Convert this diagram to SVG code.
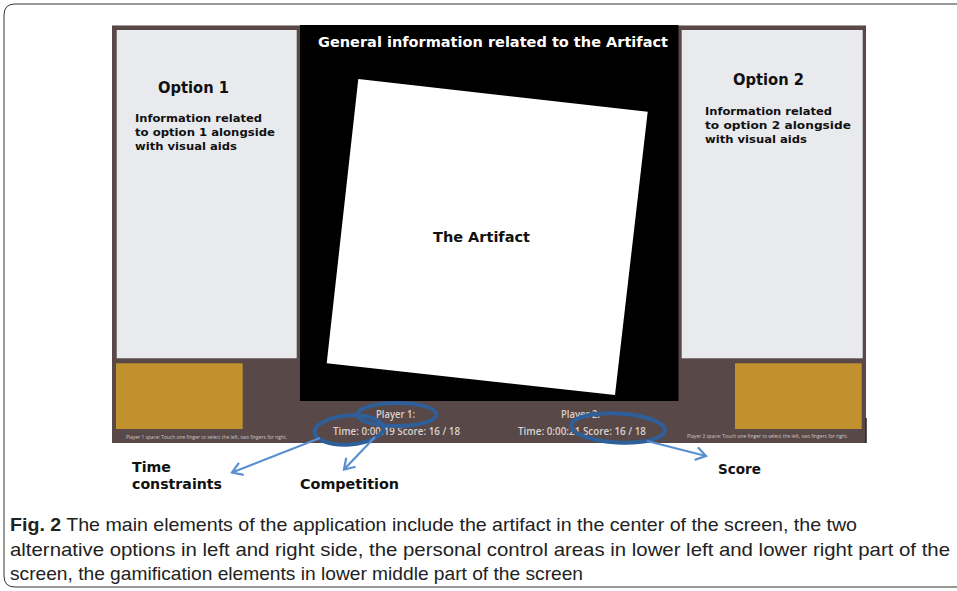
<svg xmlns="http://www.w3.org/2000/svg" width="957" height="591" viewBox="0 0 957 591">
<style>
.ui{font-family:"DejaVu Sans","Liberation Sans",sans-serif;font-weight:bold}
.bar{font-family:"Open Sans","Liberation Sans",sans-serif;font-weight:600;fill:#d9d2cf}
.tiny{font-family:"Open Sans","Liberation Sans",sans-serif;fill:#cfc8c5;font-size:5.5px}
.cap{font-family:"Liberation Sans Narrow","Liberation Sans",sans-serif;font-size:18.5px;fill:#222}
.ring{fill:none;stroke:#2f5f98;stroke-width:4}
.arrow{fill:none;stroke:#5a8fd2;stroke-width:2.2;marker-end:url(#chev)}
</style>
<defs>
<marker id="chev" markerUnits="userSpaceOnUse" markerWidth="16" markerHeight="16" refX="11" refY="7" orient="auto">
<path d="M1,0.5 L11,7 L1,13.5" fill="none" stroke="#5a8fd2" stroke-width="2.2"/>
</marker>
</defs>
<rect width="957" height="591" fill="#fff"/>
<path d="M957,4 H15 Q4,4 4,15 V576 Q4,587 15,587 H957" fill="none" stroke="#333" stroke-width="1"/>

<g id="screen">
<rect x="112" y="25" width="754" height="418" fill="#584848"/>
<line x1="112" y1="25.5" x2="866" y2="25.5" stroke="#a59c9c" stroke-width="1"/>
<line x1="866" y1="418" x2="866" y2="443" stroke="#2a2222" stroke-width="1.5"/>
</g>

<g id="artifact-area">
<rect x="300" y="25" width="378.5" height="376" fill="#000"/>
<text class="ui" x="318" y="47" font-size="14" fill="#fff" textLength="350" lengthAdjust="spacingAndGlyphs">General information related to the Artifact</text>
<polygon points="358.3,79 647.7,111.7 615,395 326.7,363.3" fill="#fff"/>
<text class="ui" x="433" y="242" font-size="14.5" fill="#111" textLength="97" lengthAdjust="spacingAndGlyphs">The Artifact</text>
</g>

<g id="option1">
<rect x="116.7" y="30" width="180" height="328.3" fill="#e9eaee"/>
<text class="ui" x="158" y="93" font-size="15.5" fill="#111" textLength="71" lengthAdjust="spacingAndGlyphs">Option 1</text>
<text class="ui" x="135" y="122" font-size="11" fill="#111" textLength="127" lengthAdjust="spacingAndGlyphs">Information related</text>
<text class="ui" x="135" y="136" font-size="11" fill="#111" textLength="140" lengthAdjust="spacingAndGlyphs">to option 1 alongside</text>
<text class="ui" x="135" y="150" font-size="11" fill="#111" textLength="102" lengthAdjust="spacingAndGlyphs">with visual aids</text>
</g>

<g id="option2">
<rect x="681.7" y="30" width="181" height="328.3" fill="#e9eaee"/>
<text class="ui" x="733" y="85" font-size="15.5" fill="#111" textLength="71" lengthAdjust="spacingAndGlyphs">Option 2</text>
<text class="ui" x="705" y="115" font-size="11" fill="#111" textLength="127" lengthAdjust="spacingAndGlyphs">Information related</text>
<text class="ui" x="705" y="129" font-size="11" fill="#111" textLength="146" lengthAdjust="spacingAndGlyphs">to option 2 alongside</text>
<text class="ui" x="705" y="143" font-size="11" fill="#111" textLength="102" lengthAdjust="spacingAndGlyphs">with visual aids</text>
</g>

<g id="player1-control">
<rect x="116" y="363.3" width="126.7" height="65.7" fill="#c0912d"/>
<text class="tiny" x="126" y="439" textLength="161" lengthAdjust="spacingAndGlyphs">Player 1 space: Touch one finger to select the left, two fingers for right.</text>
</g>

<g id="player2-control">
<rect x="735" y="363.3" width="126.7" height="65.7" fill="#c0912d"/>
<text class="tiny" x="687" y="438" textLength="161" lengthAdjust="spacingAndGlyphs">Player 2 space: Touch one finger to select the left, two fingers for right.</text>
</g>

<g id="player1-stats">
<text class="bar" x="376" y="418" font-size="11" textLength="39" lengthAdjust="spacingAndGlyphs">Player 1:</text>
<text class="bar" x="333" y="434.5" font-size="11" textLength="127" lengthAdjust="spacingAndGlyphs">Time: 0:00:19 Score: 16 / 18</text>
</g>

<g id="player2-stats">
<text class="bar" x="561" y="418" font-size="11" textLength="39" lengthAdjust="spacingAndGlyphs">Player 2:</text>
<text class="bar" x="518" y="434.5" font-size="11" textLength="128" lengthAdjust="spacingAndGlyphs">Time: 0:00:21 Score: 16 / 18</text>
</g>

<g id="highlights">
<ellipse class="ring" cx="349" cy="430" rx="34.5" ry="14.5" transform="rotate(-4 349 430)"/>
<ellipse class="ring" cx="397" cy="414.5" rx="39.5" ry="11.5"/>
<ellipse class="ring" cx="618" cy="428" rx="47" ry="14.5" transform="rotate(3 618 428)"/>
</g>

<g id="connectors">
<line class="arrow" x1="320" y1="438" x2="232" y2="472.5"/>
<line class="arrow" x1="375" y1="437" x2="344" y2="469.5"/>
<line class="arrow" x1="647" y1="441" x2="706" y2="456"/>
</g>

<g id="label-time">
<text class="ui" x="132" y="471.5" font-size="14.5" fill="#111" textLength="39" lengthAdjust="spacingAndGlyphs">Time</text>
<text class="ui" x="132" y="489.3" font-size="14.5" fill="#111" textLength="90" lengthAdjust="spacingAndGlyphs">constraints</text>
</g>
<g id="label-competition">
<text class="ui" x="300" y="489.3" font-size="14.5" fill="#111" textLength="99" lengthAdjust="spacingAndGlyphs">Competition</text>
</g>
<g id="label-score">
<text class="ui" x="718" y="474" font-size="14.5" fill="#111" textLength="43" lengthAdjust="spacingAndGlyphs">Score</text>
</g>

<g id="caption">
<text class="cap" x="10" y="531" textLength="847" lengthAdjust="spacingAndGlyphs"><tspan font-weight="bold">Fig. 2</tspan> The main elements of the application include the artifact in the center of the screen, the two</text>
<text class="cap" x="10" y="556" textLength="940" lengthAdjust="spacingAndGlyphs">alternative options in left and right side, the personal control areas in lower left and lower right part of the</text>
<text class="cap" x="10" y="580" textLength="573" lengthAdjust="spacingAndGlyphs">screen, the gamification elements in lower middle part of the screen</text>
</g>
</svg>
